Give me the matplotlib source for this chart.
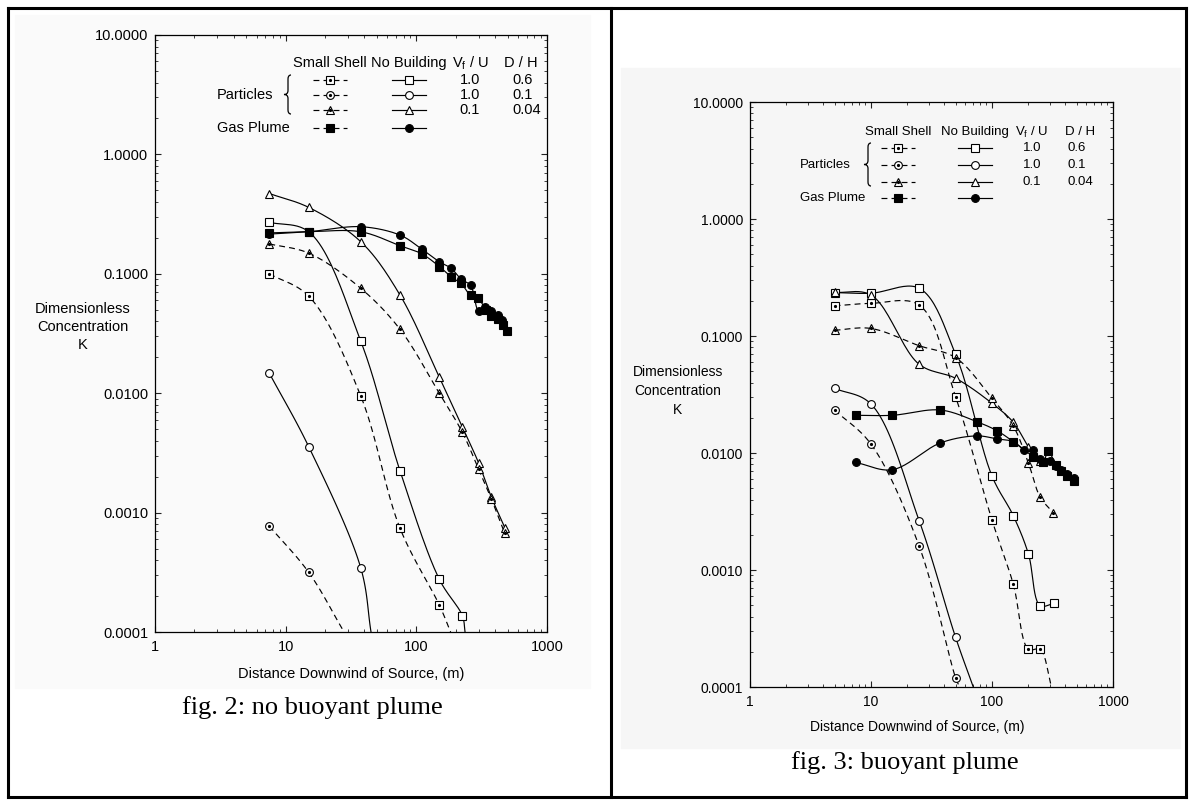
import numpy as np
import matplotlib.pyplot as plt
from matplotlib.lines import Line2D
from matplotlib.patches import Rectangle, PathPatch
from matplotlib.path import Path
from matplotlib.ticker import LogLocator, NullFormatter


W, H = 1194, 805

# ---------------- fig. 2: no buoyant plume ----------------
f2_nb_sq_x = [7.5, 15, 37.5, 75, 150, 225]
f2_nb_sq_y = [0.27, 0.225, 0.0274, 0.00224, 0.000276, 0.000137]
f2_nb_sq_end = (236, 1e-4)

f2_ss_sq_x = [7.5, 15, 37.5, 75, 150]
f2_ss_sq_y = [0.1, 0.065, 0.0095, 0.00074, 0.000168]
f2_ss_sq_end = (183, 1e-4)

f2_nb_ci_x = [7.5, 15, 37.5]
f2_nb_ci_y = [0.0147, 0.00357, 0.000346]
f2_nb_ci_end = (45, 1e-4)

f2_ss_ci_x = [7.5, 15]
f2_ss_ci_y = [0.00077, 0.000316]
f2_ss_ci_end = (28, 1e-4)

f2_tr_x = [7.5, 15, 37.5, 75, 150, 225, 300, 375, 475]
f2_nb_tr_y = [0.47, 0.36, 0.186, 0.0664, 0.0136, 0.0052, 0.0026, 0.00135, 0.00075]
f2_ss_tr_y = [0.178, 0.149, 0.0757, 0.0343, 0.00997, 0.0047, 0.0023, 0.0013, 0.00067]

f2_gas_ss_x = [7.5, 15, 37.5, 75, 110, 150, 185, 220, 260, 295, 340, 375, 420, 460, 490]
f2_gas_ss_y = [0.22, 0.225, 0.225, 0.172, 0.147, 0.115, 0.094, 0.083, 0.066, 0.063,
               0.05, 0.044, 0.042, 0.037, 0.033]
f2_gas_nb_x = [7.5, 15, 37.5, 75, 110, 150, 185, 220, 260, 300, 335, 375, 420, 450]
f2_gas_nb_y = [0.215, 0.225, 0.248, 0.211, 0.161, 0.126, 0.111, 0.09, 0.08, 0.049,
               0.053, 0.049, 0.045, 0.041]

# ---------------- fig. 3: buoyant plume ----------------
f3_nb_sq_x = [5, 10, 25, 50, 100, 150, 200, 250, 325]
f3_nb_sq_y = [0.235, 0.232, 0.256, 0.0697, 0.00635, 0.00291, 0.00137, 0.000495, 0.000518]

f3_ss_sq_x = [5, 10, 25, 50, 100, 150, 200, 250]
f3_ss_sq_y = [0.181, 0.19, 0.184, 0.0303, 0.00267, 0.000755, 0.00021, 0.00021]
f3_ss_sq_end = (310, 1e-4)

f3_nb_ci_x = [5, 10, 25, 50]
f3_nb_ci_y = [0.0357, 0.0262, 0.00264, 0.000266]
f3_nb_ci_end = (70, 1e-4)

f3_ss_ci_x = [5, 10, 25, 50]
f3_ss_ci_y = [0.0233, 0.0119, 0.0016, 0.00012]
f3_ss_ci_end = (54, 1e-4)

f3_nb_tr_x = [5, 10, 25, 50, 100, 150, 200, 250]
f3_nb_tr_y = [0.236, 0.224, 0.0573, 0.0435, 0.0266, 0.0183, 0.0113, 0.0085]
f3_ss_tr_x = [5, 10, 25, 50, 100, 150, 200, 250, 320]
f3_ss_tr_y = [0.112, 0.116, 0.0826, 0.0653, 0.0293, 0.017, 0.0082, 0.0042, 0.0031]

f3_gas_ss_x = [7.5, 15, 37.5, 75, 110, 150, 220, 265, 290, 340, 375, 420, 475]
f3_gas_ss_y = [0.021, 0.021, 0.0233, 0.0185, 0.0155, 0.0125, 0.0093, 0.0084, 0.0103,
               0.0079, 0.007, 0.0063, 0.0058]
f3_gas_nb_x = [7.5, 15, 37.5, 75, 110, 150, 185, 220, 250, 300, 340, 375, 420, 475]
f3_gas_nb_y = [0.0083, 0.0072, 0.0122, 0.014, 0.0132, 0.0125, 0.0107, 0.0106, 0.0089,
               0.0085, 0.0078, 0.0072, 0.0066, 0.0061]

y_ticks = [1e-4, 1e-3, 1e-2, 1e-1, 1, 10]
y_tick_labels = ["0.0001", "0.0010", "0.0100", "0.1000", "1.0000", "10.0000"]
x_ticks = [1, 10, 100, 1000]
x_tick_labels = ["1", "10", "100", "1000"]

legend_rows = [("1.0", "0.6"), ("1.0", "0.1"), ("0.1", "0.04")]

DASH = (0, (5, 3.5))


def fx(px):
    return px / W


def fy(py):
    return 1 - py / H


def catmull_rom(xs, ys, n=24):
    """Centripetal Catmull-Rom curve through the points, in log-log space."""
    p = np.column_stack([np.log10(xs), np.log10(ys)])
    if len(p) < 3:
        return np.asarray(xs), np.asarray(ys)
    p = np.vstack([2 * p[0] - p[1], p, 2 * p[-1] - p[-2]])
    out = []
    for i in range(1, len(p) - 2):
        p0, p1, p2, p3 = p[i - 1], p[i], p[i + 1], p[i + 2]
        t0 = 0.0
        t1 = t0 + max(np.linalg.norm(p1 - p0), 1e-6) ** 0.5
        t2 = t1 + max(np.linalg.norm(p2 - p1), 1e-6) ** 0.5
        t3 = t2 + max(np.linalg.norm(p3 - p2), 1e-6) ** 0.5
        t = np.linspace(t1, t2, n)[:, None]
        a1 = (t1 - t) / (t1 - t0) * p0 + (t - t0) / (t1 - t0) * p1
        a2 = (t2 - t) / (t2 - t1) * p1 + (t - t1) / (t2 - t1) * p2
        a3 = (t3 - t) / (t3 - t2) * p2 + (t - t2) / (t3 - t2) * p3
        b1 = (t2 - t) / (t2 - t0) * a1 + (t - t0) / (t2 - t0) * a2
        b2 = (t3 - t) / (t3 - t1) * a2 + (t - t1) / (t3 - t1) * a3
        c = (t2 - t) / (t2 - t1) * b1 + (t - t1) / (t2 - t1) * b2
        out.append(c if i == 1 else c[1:])
    c = np.vstack(out)
    return 10 ** c[:, 0], 10 ** c[:, 1]


MARKERS = {
    "sq": dict(marker="s", ms=5.2),
    "ci": dict(marker="o", ms=5.6),
    "tr": dict(marker="^", ms=6.2),
}


def draw_series(ax, xs, ys, kind, dashed, filled=False, dotted=False, end=None):
    lx, ly = list(xs), list(ys)
    if end is not None:
        lx.append(end[0])
        ly.append(end[1])
    cx, cy = catmull_rom(lx, ly)
    ax.plot(cx, cy, color="k", lw=0.85, ls=DASH if dashed else "-", zorder=2)
    ax.plot(xs, ys, ls="none", color="k", mec="k", mew=0.8,
            mfc="k" if filled else "white", zorder=3, **MARKERS[kind])
    if dotted:
        ax.plot(xs, ys, ls="none", marker="o", ms=1.3, color="k", zorder=4)


def setup_axes(ax, fs):
    ax.set_xscale("log")
    ax.set_yscale("log")
    ax.set_xlim(1, 1000)
    ax.set_ylim(1e-4, 10)
    ax.set_xticks(x_ticks, x_tick_labels)
    ax.set_yticks(y_ticks, y_tick_labels)
    ax.xaxis.set_minor_locator(LogLocator(base=10, subs=np.arange(2, 10)))
    ax.yaxis.set_minor_locator(LogLocator(base=10, subs=np.arange(2, 10)))
    ax.xaxis.set_minor_formatter(NullFormatter())
    ax.yaxis.set_minor_formatter(NullFormatter())
    ax.tick_params(which="both", direction="in", top=True, right=True,
                   labelsize=fs, color="#222222")
    ax.tick_params(which="major", length=4.5, width=0.8)
    ax.tick_params(which="minor", length=2.3, width=0.6)
    ax.tick_params(axis="y", pad=5)
    ax.tick_params(axis="x", pad=6)
    for sp in ax.spines.values():
        sp.set_linewidth(0.9)
    ax.set_facecolor("none")


def legend_marker(fig, cx, cy, kind, dashed, filled=False, dotted=False, half=17):
    xs = [fx(cx - half), fx(cx), fx(cx + half)]
    ys = [fy(cy)] * 3
    fig.add_artist(Line2D(xs, ys, transform=fig.transFigure, color="k", lw=0.85,
                          ls=DASH if dashed else "-", markevery=[1], mec="k",
                          mew=0.8, mfc="k" if filled else "white", **MARKERS[kind]))
    if dotted:
        fig.add_artist(Line2D([fx(cx)], [fy(cy)], transform=fig.transFigure,
                              ls="none", marker="o", ms=1.3, color="k"))


def brace(fig, xm, y_top, y_bot, r=4, arm=3, tip=4):
    ym = (y_top + y_bot) / 2
    pts = [
        (xm + arm, y_top), (xm, y_top), (xm, y_top + r),
        (xm, ym - r), (xm, ym), (xm - tip, ym),
        (xm, ym), (xm, ym + r),
        (xm, y_bot - r), (xm, y_bot), (xm + arm, y_bot),
    ]
    codes = [Path.MOVETO, Path.CURVE3, Path.CURVE3, Path.LINETO, Path.CURVE3,
             Path.CURVE3, Path.CURVE3, Path.CURVE3, Path.LINETO, Path.CURVE3,
             Path.CURVE3]
    path = Path([(fx(x), fy(y)) for x, y in pts], codes)
    fig.add_artist(PathPatch(path, transform=fig.transFigure, fill=False,
                             lw=0.9, color="k"))


def draw_legend(fig, lay, fs):
    t = dict(fontsize=fs, va="center", transform=fig.transFigure)
    fig.text(fx(lay["ss"]), fy(lay["head"]), "Small Shell", ha="center", **t)
    fig.text(fx(lay["nb"]), fy(lay["head"]), "No Building", ha="center", **t)
    fig.text(fx(lay["vu"]), fy(lay["head"]), r"V$_f$ / U", ha="center", **t)
    fig.text(fx(lay["dh"]), fy(lay["head"]), "D / H", ha="center", **t)
    kinds = ["sq", "ci", "tr"]
    for row_y, kind, (vu, dh) in zip(lay["rows"], kinds, legend_rows):
        legend_marker(fig, lay["ss"], row_y, kind, True, dotted=True)
        legend_marker(fig, lay["nb"], row_y, kind, False)
        fig.text(fx(lay["vu"]), fy(row_y), vu, ha="center", **t)
        fig.text(fx(lay["dh_val"]), fy(row_y), dh, ha="left", **t)
    fig.text(fx(lay["label_x"]), fy(lay["rows"][1]), "Particles", ha="left", **t)
    fig.text(fx(lay["label_x"]), fy(lay["gas"]), "Gas Plume", ha="left", **t)
    legend_marker(fig, lay["ss"], lay["gas"], "sq", True, filled=True)
    legend_marker(fig, lay["nb"], lay["gas"], "ci", False, filled=True)
    brace(fig, lay["brace"], lay["rows"][0] - 5, lay["rows"][2] + 4)


def main():
    plt.rcParams["font.family"] = ["Liberation Sans", "DejaVu Sans"]
    plt.rcParams["mathtext.default"] = "regular"

    fig = plt.figure(figsize=(W / 100, H / 100), dpi=100)
    fig.patch.set_facecolor("white")

    # scanned image backgrounds
    fig.add_artist(Rectangle((fx(15), fy(688)), fx(590) - fx(15), fy(15) - fy(688),
                             transform=fig.transFigure, color="#fafafa", zorder=0))
    fig.add_artist(Rectangle((fx(621), fy(748)), fx(1180) - fx(621), fy(68) - fy(748),
                             transform=fig.transFigure, color="#f6f6f6", zorder=0))

    # ---- left chart ----
    ax1 = fig.add_axes([fx(155), fy(632), fx(547) - fx(155), fy(35) - fy(632)])
    setup_axes(ax1, 10.5)
    draw_series(ax1, f2_nb_sq_x, f2_nb_sq_y, "sq", False, end=f2_nb_sq_end)
    draw_series(ax1, f2_ss_sq_x, f2_ss_sq_y, "sq", True, dotted=True, end=f2_ss_sq_end)
    draw_series(ax1, f2_nb_ci_x, f2_nb_ci_y, "ci", False, end=f2_nb_ci_end)
    draw_series(ax1, f2_ss_ci_x, f2_ss_ci_y, "ci", True, dotted=True, end=f2_ss_ci_end)
    draw_series(ax1, f2_tr_x, f2_nb_tr_y, "tr", False)
    draw_series(ax1, f2_tr_x, f2_ss_tr_y, "tr", True, dotted=True)
    draw_series(ax1, f2_gas_ss_x, f2_gas_ss_y, "sq", False, filled=True)
    draw_series(ax1, f2_gas_nb_x, f2_gas_nb_y, "ci", False, filled=True)

    fig.text(fx(83), fy(327), "Dimensionless\nConcentration\nK", ha="center",
             va="center", fontsize=10.5, linespacing=1.35)
    fig.text(fx(351), fy(674), "Distance Downwind of Source, (m)", ha="center",
             va="center", fontsize=10.5)
    fig.text(fx(312), fy(708), "fig. 2: no buoyant plume", ha="center", va="center",
             fontsize=19, family="Liberation Serif")
    draw_legend(fig, dict(head=63, rows=[80, 95, 110], gas=128, label_x=217,
                          brace=288, ss=330, nb=409, vu=470, dh=521, dh_val=512),
                10.5)

    # ---- right chart ----
    ax2 = fig.add_axes([fx(750), fy(687), fx(1113) - fx(750), fy(102) - fy(687)])
    setup_axes(ax2, 10)
    draw_series(ax2, f3_nb_sq_x, f3_nb_sq_y, "sq", False)
    draw_series(ax2, f3_ss_sq_x, f3_ss_sq_y, "sq", True, dotted=True, end=f3_ss_sq_end)
    draw_series(ax2, f3_nb_ci_x, f3_nb_ci_y, "ci", False, end=f3_nb_ci_end)
    draw_series(ax2, f3_ss_ci_x, f3_ss_ci_y, "ci", True, dotted=True, end=f3_ss_ci_end)
    draw_series(ax2, f3_nb_tr_x, f3_nb_tr_y, "tr", False)
    draw_series(ax2, f3_ss_tr_x, f3_ss_tr_y, "tr", True, dotted=True)
    draw_series(ax2, f3_gas_ss_x, f3_gas_ss_y, "sq", False, filled=True)
    draw_series(ax2, f3_gas_nb_x, f3_gas_nb_y, "ci", False, filled=True)

    fig.text(fx(678), fy(391), "Dimensionless\nConcentration\nK", ha="center",
             va="center", fontsize=10, linespacing=1.45)
    fig.text(fx(917), fy(727), "Distance Downwind of Source, (m)", ha="center",
             va="center", fontsize=10)
    fig.text(fx(905), fy(763), "fig. 3: buoyant plume", ha="center", va="center",
             fontsize=19, family="Liberation Serif")
    draw_legend(fig, dict(head=132, rows=[148, 165, 182], gas=198, label_x=800,
                          brace=868, ss=898, nb=975, vu=1032, dh=1080, dh_val=1068),
                9.5)

    # table borders
    border = dict(transform=fig.transFigure, color="k", lw=2.2,
                  solid_capstyle="projecting")
    fig.add_artist(Line2D([fx(8), fx(1186)], [fy(8), fy(8)], **border))
    fig.add_artist(Line2D([fx(8), fx(1186)], [fy(797), fy(797)], **border))
    fig.add_artist(Line2D([fx(8), fx(8)], [fy(8), fy(797)], **border))
    fig.add_artist(Line2D([fx(1186), fx(1186)], [fy(8), fy(797)], **border))
    fig.add_artist(Line2D([fx(611), fx(611)], [fy(8), fy(797)], **border))

    fig.savefig("out.png", dpi=100)


if __name__ == "__main__":
    main()
